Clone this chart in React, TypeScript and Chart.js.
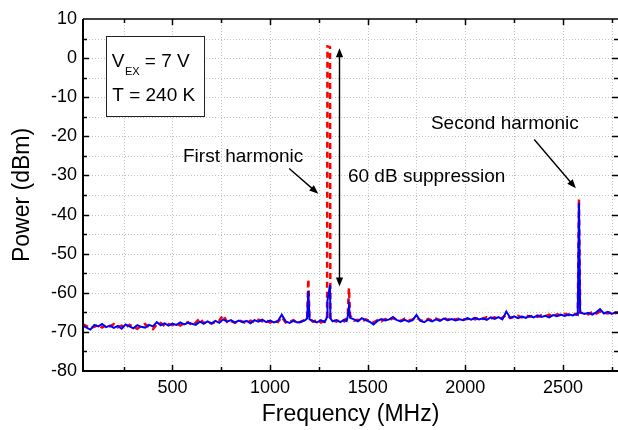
import React, { useEffect, useRef } from 'react';
import { Chart, registerables } from 'chart.js';

Chart.register(...registerables);

const FONT = "'Liberation Sans', Arial, Helvetica, sans-serif";

// Frequency axis samples (MHz)
const frequencies = [
  40, 60, 80, 100, 120, 140, 160, 180, 200, 220,
  240, 260, 280, 300, 320, 340, 360, 380, 400, 420,
  440, 460, 480, 500, 520, 540, 560, 580, 600, 620,
  640, 660, 680, 700, 720, 740, 760, 780, 800, 820,
  840, 860, 880, 900, 920, 940, 960, 980, 1000, 1020,
  1040, 1060, 1080, 1100, 1120, 1140, 1160, 1180,
  1190, 1196, 1202, 1220, 1240, 1260, 1280, 1292, 1294, 1307, 1309,
  1320, 1340, 1360, 1380, 1392, 1398, 1404, 1410,
  1430, 1450, 1470, 1490, 1510, 1530, 1550, 1570, 1590, 1610,
  1630, 1650, 1670, 1690, 1710, 1730, 1750, 1770, 1790, 1810,
  1830, 1850, 1870, 1890, 1910, 1930, 1950, 1970, 1990, 2010,
  2030, 2050, 2070, 2090, 2110, 2130, 2150, 2170, 2190, 2210,
  2230, 2250, 2270, 2290, 2310, 2330, 2350, 2370, 2390, 2410,
  2430, 2450, 2470, 2490, 2510, 2530, 2550, 2570,
  2576, 2582, 2588,
  2610, 2630, 2650, 2670, 2690, 2710, 2730, 2750, 2770, 2790,
];

// Blue solid trace (dBm)
const powerBlue = [
  -68.3, -68.9, -69.4, -68.2, -68.6, -68.0, -68.8, -68.4, -69.0, -68.5,
  -69.2, -68.1, -68.6, -69.1, -68.3, -68.7, -68.9, -68.2, -68.6, -67.5,
  -68.3, -67.8, -68.4, -67.9, -68.2, -67.6, -68.1, -67.7, -67.9, -68.2,
  -67.4, -67.9, -67.3, -67.8, -67.2, -67.7, -66.8, -67.4, -67.0, -67.6,
  -67.1, -67.5, -67.2, -67.8, -67.0, -67.4, -66.9, -67.5, -67.1, -67.6,
  -67.2, -65.6, -67.3, -67.7, -67.2, -67.6, -67.4, -67.0,
  -66.5, -59.5, -66.8, -67.2, -67.6, -67.0, -67.5, -66.2, -62.0, -58.0, -66.5,
  -67.3, -67.0, -67.5, -66.9, -67.2, -66.0, -63.4, -66.4,
  -66.8, -67.3, -66.5, -67.0, -67.4, -68.1, -67.2, -66.7, -67.1, -66.8,
  -66.2, -67.0, -67.3, -66.9, -67.4, -67.0, -65.7, -67.2, -67.5, -66.9,
  -67.3, -66.8, -67.2, -66.6, -67.0, -66.7, -67.1, -66.8, -67.0, -66.5,
  -66.9, -66.4, -66.8, -66.5, -66.9, -66.3, -66.7, -66.2, -66.8, -64.8,
  -66.4, -66.0, -66.5, -66.1, -66.4, -65.9, -66.3, -65.8, -66.2, -65.9,
  -66.3, -65.7, -66.0, -65.6, -65.9, -65.5, -65.8, -65.4,
  -65.6, -37.0, -65.0,
  -65.4, -65.1, -65.6, -65.0, -64.2, -65.3, -64.9, -65.4, -65.0, -65.2,
];

// Red dashed trace (dBm)
const powerRed = [
  -68.0, -68.5, -69.0, -68.7, -68.2, -68.9, -68.3, -68.6, -68.0, -68.8,
  -68.4, -68.9, -68.2, -68.7, -69.2, -68.5, -68.0, -68.8, -69.3, -68.1,
  -67.7, -68.5, -68.0, -68.3, -67.8, -68.4, -67.9, -67.5, -68.3, -67.6,
  -66.5, -67.8, -67.4, -67.9, -67.5, -67.1, -65.7, -67.5, -67.2, -67.7,
  -67.0, -67.4, -67.8, -67.1, -67.5, -66.9, -67.3, -67.0, -67.6, -67.2,
  -67.5, -66.2, -67.6, -67.4, -67.0, -67.8, -67.3, -66.9,
  -66.4, -56.5, -66.6, -67.4, -67.0, -67.6, -67.2, -66.8, 3.0, 2.8, -66.9,
  -67.0, -67.4, -66.8, -67.3, -66.5, -65.5, -58.8, -65.8,
  -67.1, -66.9, -67.4, -66.8, -67.2, -67.6, -67.0, -67.3, -66.7, -67.0,
  -66.5, -66.9, -67.2, -66.6, -67.1, -66.8, -66.3, -67.0, -67.3, -66.7,
  -67.1, -66.6, -67.0, -66.4, -66.9, -66.5, -66.9, -66.5, -66.8, -66.7,
  -66.3, -66.8, -66.4, -66.7, -66.2, -66.6, -66.3, -66.7, -66.4, -65.6,
  -66.5, -66.2, -65.9, -66.3, -65.8, -66.1, -65.9, -66.2, -65.7, -66.0,
  -65.6, -66.0, -65.5, -65.8, -65.4, -65.7, -65.3, -65.6,
  -65.2, -36.0, -65.1,
  -65.2, -65.5, -64.9, -65.3, -64.8, -65.0, -65.3, -64.9, -65.2, -65.0,
];

const xTickValues = [250, 500, 750, 1000, 1250, 1500, 1750, 2000, 2250, 2500, 2750];
const xLabelValues = [500, 1000, 1500, 2000, 2500];
const yTickValues = [-80, -75, -70, -65, -60, -55, -50, -45, -40, -35, -30, -25, -20, -15, -10, -5, 0, 5, 10];
const yLabelValues = [-80, -70, -60, -50, -40, -30, -20, -10, 0, 10];

const X_MIN = 42;
const X_MAX = 2782;
const Y_MIN = -80;
const Y_MAX = 10;

// Annotations, in data units (MHz, dBm)
const infoBox = { x1: 158, y1: 5.65, x2: 663, y2: -14.8 };
const infoLines = { vx: 189, vy: -2.35, subY: -4.3, tx: 192, ty: -10.9 };
const labelFirst = { text: 'First harmonic', x: 554, y: -26.5 };
const labelSuppression = { text: '60 dB suppression', x: 1399, y: -31.6 };
const labelSecond = { text: 'Second harmonic', x: 1824, y: -18.2 };
const arrowFirst = { x1: 1098, y1: -28.2, x2: 1247, y2: -34.7 };
const arrowSecond = { x1: 2353, y1: -20.8, x2: 2566, y2: -33.3 };
const arrowSuppression = { x: 1353, y1: 2.5, y2: -58.4 };

function arrowHead(ctx: CanvasRenderingContext2D, x1: number, y1: number, x2: number, y2: number) {
  const ang = Math.atan2(y2 - y1, x2 - x1);
  const len = 9;
  const hw = 3.6;
  ctx.beginPath();
  ctx.moveTo(x2, y2);
  ctx.lineTo(x2 - len * Math.cos(ang) + hw * Math.sin(ang), y2 - len * Math.sin(ang) - hw * Math.cos(ang));
  ctx.lineTo(x2 - len * Math.cos(ang) - hw * Math.sin(ang), y2 - len * Math.sin(ang) + hw * Math.cos(ang));
  ctx.closePath();
  ctx.fill();
}

function lineWithHead(ctx: CanvasRenderingContext2D, x1: number, y1: number, x2: number, y2: number) {
  const ang = Math.atan2(y2 - y1, x2 - x1);
  ctx.beginPath();
  ctx.moveTo(x1, y1);
  ctx.lineTo(x2 - 6 * Math.cos(ang), y2 - 6 * Math.sin(ang));
  ctx.stroke();
  arrowHead(ctx, x1, y1, x2, y2);
}

const gridPlugin = {
  id: 'dottedGrid',
  beforeDatasetsDraw(chart: any) {
    const { ctx, chartArea, scales } = chart;
    const { left, right, top, bottom } = chartArea;
    ctx.save();
    ctx.strokeStyle = '#c2c2c2';
    ctx.lineWidth = 1;
    ctx.setLineDash([1, 2]);
    xTickValues.forEach((v) => {
      const px = Math.round(scales.x.getPixelForValue(v)) + 0.5;
      ctx.beginPath();
      ctx.moveTo(px, top);
      ctx.lineTo(px, bottom);
      ctx.stroke();
    });
    yTickValues.forEach((v) => {
      if (v === Y_MIN || v === Y_MAX) return;
      const py = Math.round(scales.y.getPixelForValue(v)) + 0.5;
      ctx.beginPath();
      ctx.moveTo(left, py);
      ctx.lineTo(right, py);
      ctx.stroke();
    });
    ctx.restore();
  },
};

const framePlugin = {
  id: 'frameAndNotes',
  afterDatasetsDraw(chart: any) {
    const { ctx, chartArea, scales } = chart;
    const { left, right, top, bottom } = chartArea;
    const X = (v: number) => scales.x.getPixelForValue(v);
    const Y = (v: number) => scales.y.getPixelForValue(v);
    ctx.save();
    ctx.setLineDash([]);
    ctx.strokeStyle = '#000';
    ctx.fillStyle = '#000';

    // frame (left, bottom, top)
    ctx.lineWidth = 2;
    ctx.beginPath();
    ctx.moveTo(left, top);
    ctx.lineTo(left, bottom);
    ctx.lineTo(right, bottom);
    ctx.stroke();
    ctx.lineWidth = 1.5;
    ctx.beginPath();
    ctx.moveTo(left, top);
    ctx.lineTo(right, top);
    ctx.stroke();

    // inward ticks
    ctx.lineWidth = 1.5;
    xTickValues.forEach((v) => {
      const px = Math.round(X(v)) + 0.5;
      const len = xLabelValues.includes(v) ? 6 : 4;
      ctx.beginPath();
      ctx.moveTo(px, bottom);
      ctx.lineTo(px, bottom - len);
      ctx.moveTo(px, top);
      ctx.lineTo(px, top + len);
      ctx.stroke();
    });
    yTickValues.forEach((v) => {
      if (v === Y_MIN || v === Y_MAX) return;
      const py = Math.round(Y(v)) + 0.5;
      const len = yLabelValues.includes(v) ? 6 : 4;
      ctx.beginPath();
      ctx.moveTo(left, py);
      ctx.lineTo(left + len, py);
      ctx.moveTo(right, py);
      ctx.lineTo(right - len, py);
      ctx.stroke();
    });

    // info box
    const bx1 = Math.round(X(infoBox.x1)) + 0.5;
    const by1 = Math.round(Y(infoBox.y1)) + 0.5;
    const bx2 = Math.round(X(infoBox.x2)) + 0.5;
    const by2 = Math.round(Y(infoBox.y2)) + 0.5;
    ctx.fillStyle = '#fff';
    ctx.fillRect(bx1, by1, bx2 - bx1, by2 - by1);
    ctx.strokeStyle = '#222';
    ctx.lineWidth = 1;
    ctx.strokeRect(bx1, by1, bx2 - bx1, by2 - by1);

    ctx.fillStyle = '#000';
    ctx.textBaseline = 'alphabetic';
    ctx.textAlign = 'left';
    const big = `19px ${FONT}`;
    const small = `11px ${FONT}`;
    ctx.font = big;
    let tx = X(infoLines.vx);
    ctx.fillText('V', tx, Y(infoLines.vy));
    tx += ctx.measureText('V').width + 0.5;
    ctx.font = small;
    ctx.fillText('EX', tx, Y(infoLines.subY));
    tx += ctx.measureText('EX').width;
    ctx.font = big;
    ctx.fillText(' = 7 V', tx, Y(infoLines.vy));
    ctx.fillText('T = 240 K', X(infoLines.tx), Y(infoLines.ty));

    // labels
    ctx.fillText(labelFirst.text, X(labelFirst.x), Y(labelFirst.y));
    ctx.fillText(labelSuppression.text, X(labelSuppression.x), Y(labelSuppression.y));
    ctx.fillText(labelSecond.text, X(labelSecond.x), Y(labelSecond.y));

    // arrows
    ctx.strokeStyle = '#000';
    ctx.fillStyle = '#000';
    ctx.lineWidth = 1.4;
    lineWithHead(ctx, X(arrowFirst.x1), Y(arrowFirst.y1), X(arrowFirst.x2), Y(arrowFirst.y2));
    lineWithHead(ctx, X(arrowSecond.x1), Y(arrowSecond.y1), X(arrowSecond.x2), Y(arrowSecond.y2));
    const ax = Math.round(X(arrowSuppression.x)) + 0.5;
    const ay1 = Y(arrowSuppression.y1);
    const ay2 = Y(arrowSuppression.y2);
    ctx.beginPath();
    ctx.moveTo(ax, ay1 + 6);
    ctx.lineTo(ax, ay2 - 6);
    ctx.stroke();
    arrowHead(ctx, ax, ay2, ax, ay1);
    arrowHead(ctx, ax, ay1, ax, ay2);

    ctx.restore();
  },
};

export default function App() {
  const canvasRef = useRef<HTMLCanvasElement | null>(null);

  useEffect(() => {
    document.body.style.margin = '0';
    document.body.style.background = '#fff';
    const canvas = canvasRef.current;
    if (!canvas) return;

    const blueData = frequencies.map((f, i) => ({ x: f, y: powerBlue[i] }));
    const redData = frequencies.map((f, i) => ({ x: f, y: powerRed[i] }));

    const chart = new Chart(canvas, {
      type: 'line',
      data: {
        datasets: [
          {
            label: 'Blue',
            data: blueData,
            borderColor: '#0000ff',
            borderWidth: 2,
            pointRadius: 0,
            tension: 0,
            fill: false,
          },
          {
            label: 'Red',
            data: redData,
            borderColor: '#ff0000',
            borderWidth: 2.5,
            borderDash: [6, 4],
            pointRadius: 0,
            tension: 0,
            fill: false,
          },
        ],
      },
      options: {
        responsive: false,
        animation: false,
        devicePixelRatio: 1,
        layout: { padding: { top: 19, right: 0, left: 0, bottom: 0 } },
        plugins: { legend: { display: false }, tooltip: { enabled: false } },
        elements: { point: { radius: 0 }, line: { tension: 0 } },
        scales: {
          x: {
            type: 'linear',
            min: X_MIN,
            max: X_MAX,
            afterBuildTicks: (s: any) => {
              s.ticks = xTickValues.map((v) => ({ value: v }));
            },
            afterFit: (s: any) => {
              s.height = 59;
            },
            grid: { display: false, drawTicks: false },
            border: { display: false },
            ticks: {
              padding: 6,
              color: '#000',
              autoSkip: false,
              maxRotation: 0,
              font: { family: FONT, size: 18 },
              callback: (v: any) => (xLabelValues.includes(Number(v)) ? String(v) : ''),
            },
            title: {
              display: true,
              text: 'Frequency (MHz)',
              color: '#000',
              font: { family: FONT, size: 23 },
              padding: { top: 0, bottom: 2 },
            },
          },
          y: {
            type: 'linear',
            min: Y_MIN,
            max: Y_MAX,
            afterBuildTicks: (s: any) => {
              s.ticks = yTickValues.map((v) => ({ value: v }));
            },
            afterFit: (s: any) => {
              s.width = 83;
            },
            grid: { display: false, drawTicks: false },
            border: { display: false },
            ticks: {
              padding: 6,
              color: '#000',
              autoSkip: false,
              font: { family: FONT, size: 18 },
              callback: (v: any) => (yLabelValues.includes(Number(v)) ? String(v) : ''),
            },
            title: {
              display: true,
              text: 'Power (dBm)',
              color: '#000',
              font: { family: FONT, size: 23 },
              padding: { top: 9, bottom: 0 },
            },
          },
        },
      },
      plugins: [gridPlugin, framePlugin],
    } as any);

    return () => {
      chart.destroy();
    };
  }, []);

  return (
    <div style={{ position: 'fixed', left: 0, top: 0, width: 618, height: 430, background: '#fff' }}>
      <canvas ref={canvasRef} width={618} height={430} style={{ display: 'block', width: 618, height: 430 }} />
    </div>
  );
}
